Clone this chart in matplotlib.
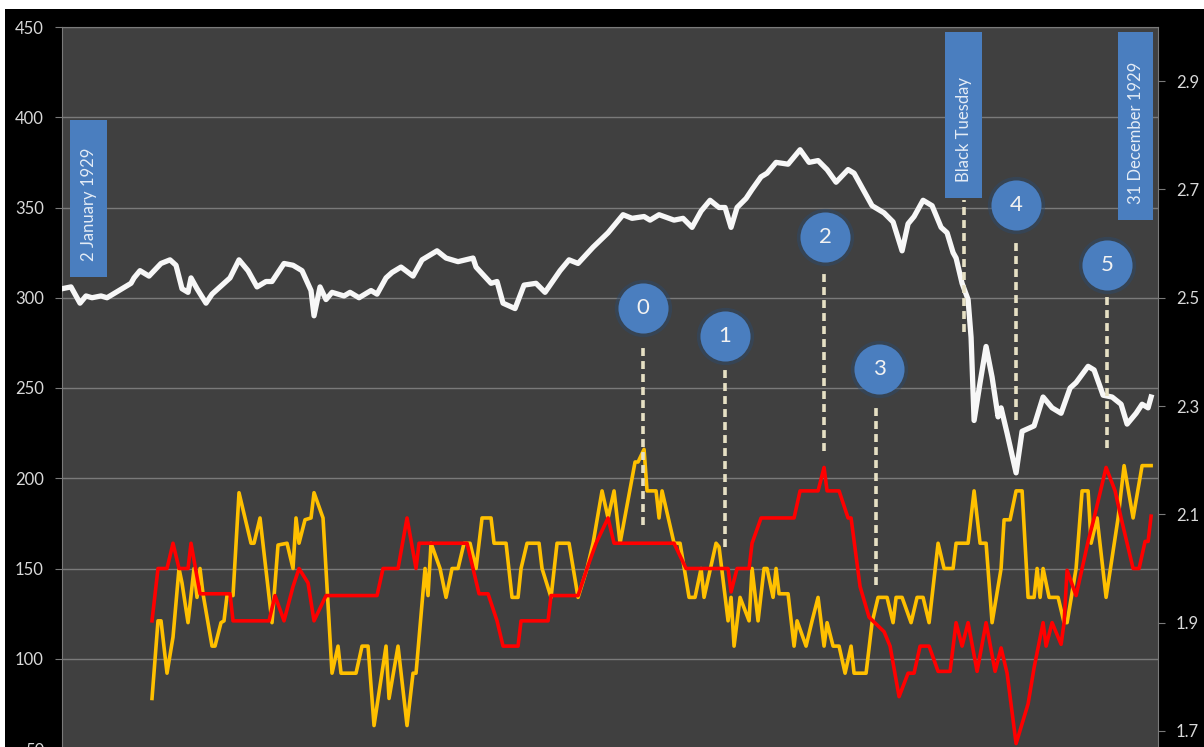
import matplotlib
matplotlib.use("Agg")
import matplotlib.pyplot as plt
from matplotlib.patches import Rectangle

plt.rcParams['font.family'] = ['Lato', 'DejaVu Sans']

# days since 2 January 1929, Dow Jones close
white_days = [0, 3, 6, 8, 10, 13, 15, 17, 20, 23, 24, 26, 29, 33, 36, 38, 40, 42, 43, 45,
              48, 50, 54, 56, 59, 62, 65, 68, 70, 74, 77, 80, 83, 84, 86, 88, 90, 94, 96, 99,
              103, 105, 108, 110, 113, 117, 120, 125, 128, 132, 137, 138, 143, 145, 147, 151,
              154, 158, 161, 166, 169, 172, 177, 182, 187, 190, 194, 196, 199, 204, 207, 210,
              213, 216, 219, 221, 223, 225, 228, 230, 233, 235, 238, 242, 246, 249, 252, 255,
              258, 262, 264, 266, 270, 274, 277, 280, 282, 284, 287, 290, 293, 295, 297, 298,
              300, 302, 303, 304, 306, 308, 310, 312, 313, 315, 318, 320, 324, 327, 330, 333,
              336, 338, 342, 344, 347, 350, 353, 355, 358, 360, 362, 363]
white_vals = [305, 306, 297, 301, 300, 301, 300, 302, 305, 308, 311, 315, 312, 319, 321, 318, 305, 303, 311, 305,
              297, 302, 308, 311, 321, 315, 306, 309, 309, 319, 318, 315, 304, 290, 306, 299, 303, 301, 303, 300,
              304, 302, 311, 314, 317, 312, 321, 326, 322, 320, 322, 317, 308, 309, 297, 294,
              307, 308, 303, 315, 321, 319, 328, 336, 346, 344, 345, 343, 346, 343, 344, 339,
              348, 354, 350, 350, 339, 350, 355, 360, 367, 369, 375, 374, 382, 375, 376, 371,
              364, 371, 369, 363, 351, 347, 342, 326, 341, 345, 354, 351, 339, 336, 325, 322,
              308, 299, 278, 232, 253, 273, 256, 234, 239, 225, 203, 226, 229, 245, 239, 236,
              250, 253, 262, 260, 246, 245, 241, 230, 236, 241, 239, 245]

red_days = [30, 32, 35, 37, 39, 42, 43, 46, 56, 57, 69, 71, 74, 77, 79, 82, 84, 88, 105, 107,
            112, 115, 118, 119, 135, 137, 139, 142, 145, 147, 152, 153, 162, 163, 172, 175, 178,
            182, 184, 204, 208, 222, 223, 225, 229, 230, 233, 244, 246, 252, 254, 255, 259, 262,
            263, 266, 269, 274, 276, 279, 282, 284, 286, 289, 292, 296, 298, 300, 302, 305, 308,
            311, 313, 315, 318, 322, 324, 327, 328, 330, 333, 334, 335, 338, 342, 344, 348, 351,
            353, 357, 359, 361, 362, 363]
red_vals = [121, 150, 150, 164, 150, 150, 164, 136, 136, 121, 121, 135, 121, 140, 150, 142, 121, 135, 135, 150,
            150, 178, 150, 164, 164, 150, 136, 136, 121, 107, 107, 121, 121, 135, 135, 150, 164,
            178, 164, 164, 150, 150, 137, 150, 150, 164, 178, 178, 193, 193, 206, 193, 193, 178,
            178, 140, 123, 115, 107, 79, 92, 92, 107, 107, 93, 93, 120, 107, 120, 93, 120,
            93, 106, 92, 53, 75, 95, 120, 107, 120, 108, 120, 149, 135, 165, 178, 206, 193,
            178, 150, 150, 165, 165, 179]

yellow_days = [30, 32, 33, 35, 37, 39, 40, 42, 44, 45, 46, 47, 50, 51, 53, 54, 55, 57, 59, 63,
               64, 66, 70, 72, 75, 77, 78, 79, 81, 83, 84, 87, 90, 92, 93, 98, 100, 102, 104, 108,
               109, 112, 115, 117, 118, 121, 122, 123, 126, 128, 130, 132, 134, 136, 138, 140, 143,
               144, 148, 150, 152, 153, 155, 159, 160, 163, 165, 169, 172, 175, 177, 180, 182, 184,
               186, 191, 192, 194, 195, 198, 199, 200, 204, 206, 209, 211, 213, 214, 218, 219, 222,
               223, 224, 226, 229, 230, 232, 234, 235, 237, 238, 239, 242, 244, 245, 248, 250, 252,
               254, 255, 257, 259, 261, 263, 264, 265, 268, 270, 272, 274, 275, 277, 278, 280, 283,
               285, 287, 289, 292, 294, 297, 298, 302, 304, 306, 308, 310, 313, 314, 316, 318, 320,
               322, 324, 325, 326, 327, 329, 332, 334, 335, 338, 340, 342, 343, 345, 348, 352, 354,
               357, 360, 363]
yellow_vals = [78, 121, 121, 92, 112, 150, 142, 120, 150, 134, 150, 136, 107, 107, 120, 121, 135, 135, 192, 164,
               164, 178, 120, 163, 164, 150, 178, 164, 177, 178, 192, 178, 92, 107, 92, 92, 107, 107, 63, 107,
               78, 107, 63, 92, 92, 150, 135, 164, 150, 134, 150, 150, 164, 164, 150, 178, 178,
               164, 164, 134, 134, 150, 164, 164, 150, 134, 164, 164, 134, 150, 164, 193, 178, 193,
               164, 209, 209, 216, 193, 193, 178, 193, 164, 164, 134, 134, 150, 134, 164, 162, 121,
               134, 107, 134, 121, 150, 121, 150, 150, 134, 150, 136, 136, 107, 121, 107, 121, 134,
               107, 120, 107, 107, 92, 107, 92, 92, 92, 120, 134, 134, 134, 120, 134, 134, 120,
               134, 134, 120, 164, 150, 150, 164, 164, 193, 164, 164, 120, 150, 177, 177, 193, 193,
               134, 134, 150, 134, 150, 134, 134, 120, 120, 150, 193, 193, 164, 178, 134, 178, 207,
               178, 207, 207]

# numbered badges: label, day, badge height, dashed line top, dashed line bottom
badge_labels = ['0', '1', '2', '3', '4', '5']
badge_days = [193.7, 221, 254.3, 272.3, 318, 348.3]
badge_y = [294.2, 278.7, 333.6, 260.4, 351.3, 318.1]
line_days = [193.7, 221, 254, 271.3, 318, 348.3]
line_top = [272, 260, 315, 239, 332, 301]
line_bottom = [174, 162, 215, 141, 232, 217]

# event boxes: text, day range, value range
box_texts = ['2 January 1929', 'Black Tuesday', '31 December 1929']
box_x0 = [2.7, 294.3, 352]
box_x1 = [15, 306.7, 363.7]
box_y0 = [311.4, 355.2, 343]
box_y1 = [398.4, 447.2, 447.2]
bt_day = 300.7
bt_top, bt_bottom = 354, 281

W, H = 1204, 747
fig = plt.figure(figsize=(W / 100, H / 100), dpi=100, facecolor='black')
ax = fig.add_axes([62 / W, 1 - 749 / H, 1096 / W, 722 / H])
ax.set_facecolor('#404040')

ax.set_xlim(0, 365.3)
ax.set_ylim(50, 450)
ax.set_yticks(range(50, 451, 50))
ax.set_xticks([])
ax.grid(axis='y', color='#7a7a7a', linewidth=1)
ax.set_axisbelow(True)
for s in ['left', 'right', 'top']:
    ax.spines[s].set_color('#7a7a7a')
ax.spines['bottom'].set_visible(False)
ax.tick_params(axis='y', colors='#7a7a7a', labelcolor='#d9d9d9', labelsize=12,
               length=5, pad=8)

ax2 = ax.twinx()
ax2.set_ylim(2.5 - 250 / 300, 3.0)
ax2.set_yticks([1.7, 1.9, 2.1, 2.3, 2.5, 2.7, 2.9])
ax2.set_yticklabels(['1.7', '1.9', '2.1', '2.3', '2.5', '2.7', '2.9'])
ax2.tick_params(axis='y', colors='#7a7a7a', labelcolor='#d9d9d9', labelsize=12,
                length=5, pad=8)
for s in ax2.spines.values():
    s.set_visible(False)

ax.plot(yellow_days, yellow_vals, color='#ffc000', linewidth=2.6, zorder=3)
ax.plot(red_days, red_vals, color='#ff0000', linewidth=2.6, zorder=4)
ax.plot(white_days, white_vals, color='#f7f7f7', linewidth=3.8, zorder=5,
        solid_joinstyle='round')

dash = dict(color='#e6e0c4', linewidth=2.6, linestyle=(0, (2.2, 1.4)), zorder=6)
for d, t, b in zip(line_days, line_top, line_bottom):
    ax.plot([d, d], [b, t], **dash)
ax.plot([bt_day, bt_day], [bt_bottom, bt_top], **dash)

ax.scatter(badge_days, badge_y, s=1700, color='#2c4a6e', alpha=0.45, zorder=7, linewidths=0)
ax.scatter(badge_days, badge_y, s=1300, color='#4a7ebf', zorder=8, linewidths=0)
for lab, d, v in zip(badge_labels, badge_days, badge_y):
    ax.text(d, v, lab, color='#f2f2f2', fontsize=16, ha='center', va='center', zorder=9)

for txt, x0, x1, y0, y1 in zip(box_texts, box_x0, box_x1, box_y0, box_y1):
    ax.add_patch(Rectangle((x0, y0), x1 - x0, y1 - y0, facecolor='#4a7ebf',
                           edgecolor='none', zorder=7))
    ax.text((x0 + x1) / 2, y0 + 9, txt, rotation=90, color='#e4ecf6', fontsize=12,
            ha='center', va='bottom', zorder=9)

# white strips at the top and left edge of the screenshot
fig.patches.append(Rectangle((0, 1 - 9 / H), 1, 9 / H, transform=fig.transFigure,
                             facecolor='white', edgecolor='none'))
fig.patches.append(Rectangle((0, 0), 5 / W, 1, transform=fig.transFigure,
                             facecolor='white', edgecolor='none'))

fig.savefig('out.png', dpi=100, facecolor='black')
